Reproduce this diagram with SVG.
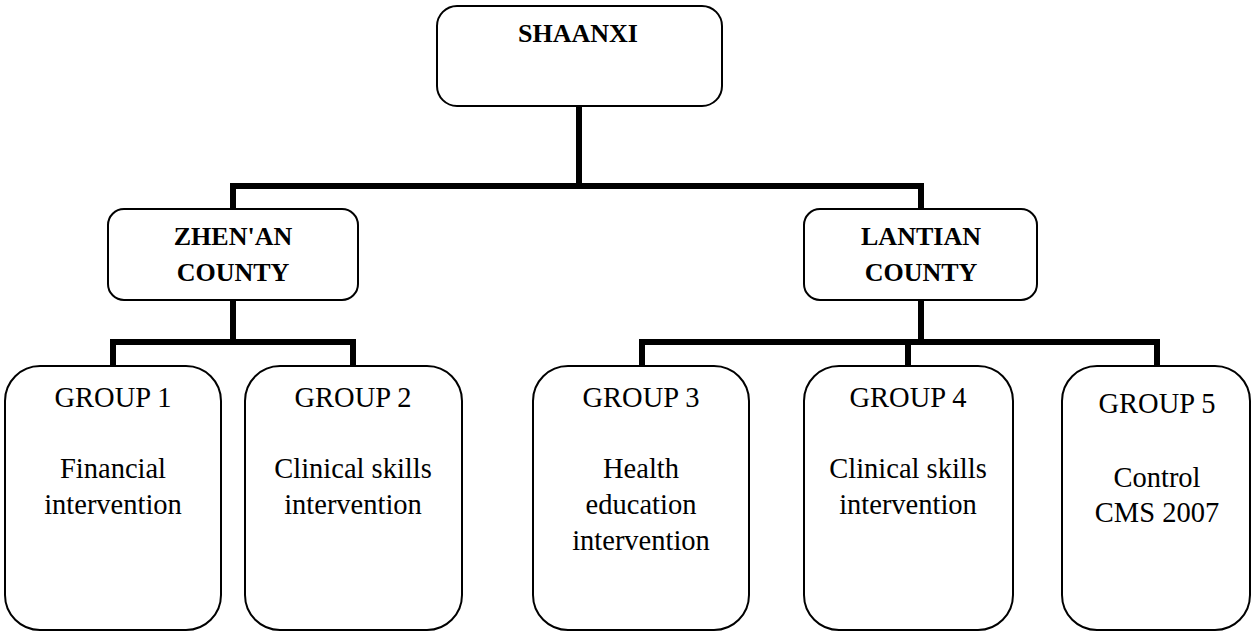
<svg xmlns="http://www.w3.org/2000/svg" width="1253" height="633" viewBox="0 0 1253 633">
<style>
.box{fill:#fff;stroke:#000;stroke-width:2}
.conn{fill:none;stroke:#000;stroke-width:6;stroke-linecap:butt;stroke-linejoin:miter}
.h{font-family:"Liberation Serif","Times New Roman",serif;font-weight:bold;font-size:26px;text-anchor:middle;fill:#000}
.t{font-family:"Liberation Serif","Times New Roman",serif;font-size:28.5px;text-anchor:middle;fill:#000}
</style>
<rect width="1253" height="633" fill="#fff"/>
<g id="connectors">
<path class="conn" d="M579 106 V186 M233 209 V186 H921 V209"/>
<path class="conn" d="M233 300 V342 M113 366 V342 H353 V366"/>
<path class="conn" d="M921 300 V342 M642 366 V342 H1157 V366 M908 342 V366"/>
</g>
<g id="shaanxi">
<rect class="box" x="437" y="6" width="285" height="100" rx="20"/>
<text class="h" x="578" y="42">SHAANXI</text>
</g>
<g id="zhenan">
<rect class="box" x="108" y="209" width="250" height="91" rx="16"/>
<text class="h" x="233" y="245">ZHEN'AN</text>
<text class="h" x="233" y="281">COUNTY</text>
</g>
<g id="lantian">
<rect class="box" x="804" y="209" width="233" height="91" rx="16"/>
<text class="h" x="921" y="245">LANTIAN</text>
<text class="h" x="921" y="281">COUNTY</text>
</g>
<g id="group1">
<rect class="box" x="5" y="366" width="216" height="264" rx="35"/>
<text class="t" x="113" y="407">GROUP 1</text>
<text class="t" x="113" y="478">Financial</text>
<text class="t" x="113" y="514">intervention</text>
</g>
<g id="group2">
<rect class="box" x="245" y="366" width="217" height="264" rx="35"/>
<text class="t" x="353" y="407">GROUP 2</text>
<text class="t" x="353" y="478">Clinical skills</text>
<text class="t" x="353" y="514">intervention</text>
</g>
<g id="group3">
<rect class="box" x="533" y="366" width="216" height="264" rx="35"/>
<text class="t" x="641" y="407">GROUP 3</text>
<text class="t" x="641" y="478">Health</text>
<text class="t" x="641" y="514">education</text>
<text class="t" x="641" y="550">intervention</text>
</g>
<g id="group4">
<rect class="box" x="804" y="366" width="209" height="264" rx="35"/>
<text class="t" x="908" y="407">GROUP 4</text>
<text class="t" x="908" y="478">Clinical skills</text>
<text class="t" x="908" y="514">intervention</text>
</g>
<g id="group5">
<rect class="box" x="1062" y="366" width="188" height="264" rx="35"/>
<text class="t" x="1157" y="413">GROUP 5</text>
<text class="t" x="1157" y="487">Control</text>
<text class="t" x="1157" y="522">CMS 2007</text>
</g>
</svg>
